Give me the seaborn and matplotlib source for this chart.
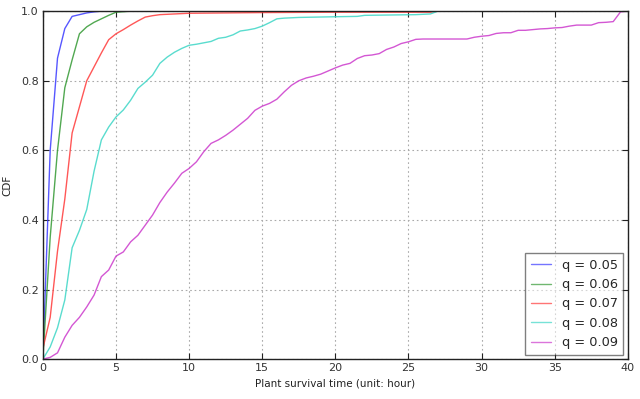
import matplotlib
matplotlib.use("Agg")
import matplotlib.pyplot as plt
import seaborn as sns
import pandas as pd

labels = ["q = 0.05", "q = 0.06", "q = 0.07", "q = 0.08", "q = 0.09"]
colors = ["#3a3aff", "#339933", "#ff3a3a", "#3dd6c6", "#cc3acc"]

x_05 = [0, 0.5, 1, 1.5, 2, 2.5, 3, 3.5, 4, 5, 40]
y_05 = [0, 0.60, 0.865, 0.95, 0.985, 0.99, 0.995, 0.998, 1.0, 1.0, 1.0]

x_06 = [0, 0.5, 1, 1.5, 2, 2.5, 3, 3.5, 4, 4.5, 5, 6, 40]
y_06 = [0, 0.35, 0.60, 0.78, 0.86, 0.935, 0.955, 0.968, 0.978, 0.988, 0.997, 1.0, 1.0]

x_07 = [0, 0.5, 1, 1.5, 2, 2.5, 3, 3.5, 4, 4.5, 5, 5.5, 6, 6.5, 7, 7.5, 8, 9, 10,
        15, 20, 26.5, 27, 40]
y_07 = [0.03, 0.12, 0.31, 0.46, 0.65, 0.725, 0.80, 0.84, 0.88, 0.918, 0.935, 0.947,
        0.96, 0.972, 0.983, 0.987, 0.99, 0.992, 0.994, 0.996, 0.997, 0.997, 1.0, 1.0]

x_08 = [0, 0.5, 1, 1.5, 2, 2.5, 3, 3.5, 4, 4.5, 5, 5.5, 6, 6.5, 7, 7.5, 8, 8.5, 9,
        9.5, 10, 10.5, 11, 11.5, 12, 12.5, 13, 13.5, 14, 14.5, 15, 15.5, 16, 16.5,
        17.5, 20, 21.5, 22, 25.5, 26.5, 27, 40]
y_08 = [0, 0.035, 0.09, 0.17, 0.32, 0.37, 0.43, 0.54, 0.63, 0.667, 0.696, 0.716,
        0.744, 0.778, 0.796, 0.816, 0.85, 0.868, 0.882, 0.893, 0.902, 0.905, 0.909,
        0.913, 0.922, 0.925, 0.932, 0.943, 0.946, 0.95, 0.957, 0.967, 0.978, 0.98,
        0.982, 0.984, 0.985, 0.988, 0.99, 0.992, 1.0, 1.0]

x_09 = [0, 0.5, 1, 1.5, 2, 2.5, 3, 3.5, 4, 4.5, 5, 5.5, 6, 6.5, 7, 7.5, 8, 8.5, 9,
        9.5, 10, 10.5, 11, 11.5, 12, 12.5, 13, 13.5, 14, 14.5, 15, 15.5, 16, 16.5,
        17, 17.5, 18, 18.5, 19, 19.5, 20, 20.5, 21, 21.5, 22, 22.5, 23, 23.5, 24,
        24.5, 25, 25.5, 26, 29, 29.5, 30, 30.5, 31, 31.5, 32, 32.5, 33, 33.5, 34,
        34.5, 35, 35.5, 36, 36.5, 37, 37.5, 38, 38.5, 39, 39.5, 40]
y_09 = [0, 0.005, 0.018, 0.063, 0.097, 0.12, 0.15, 0.184, 0.237, 0.256, 0.296,
        0.308, 0.337, 0.356, 0.385, 0.414, 0.45, 0.48, 0.506, 0.534, 0.548, 0.567,
        0.596, 0.62, 0.63, 0.643, 0.658, 0.675, 0.692, 0.715, 0.727, 0.735, 0.747,
        0.768, 0.787, 0.80, 0.808, 0.813, 0.819, 0.828, 0.837, 0.845, 0.85, 0.864,
        0.872, 0.874, 0.878, 0.89, 0.897, 0.907, 0.912, 0.919, 0.92, 0.92, 0.925,
        0.928, 0.93, 0.936, 0.938, 0.938, 0.945, 0.945, 0.947, 0.949, 0.95, 0.952,
        0.953, 0.957, 0.96, 0.96, 0.96, 0.967, 0.968, 0.97, 0.998, 1.0]

xs = [x_05, x_06, x_07, x_08, x_09]
ys = [y_05, y_06, y_07, y_08, y_09]

frames = []
for lab, xv, yv in zip(labels, xs, ys):
    frames.append(pd.DataFrame({"t": xv, "cdf": yv, "q": lab}))
df = pd.concat(frames, ignore_index=True)

sns.set_style("white")
plt.rcParams["font.family"] = ["DejaVu Sans"]

fig = plt.figure(figsize=(6.4, 3.99), dpi=100)
ax = fig.add_axes([0.067, 0.10, 0.914, 0.872])

sns.lineplot(data=df, x="t", y="cdf", hue="q", palette=colors, hue_order=labels,
             ax=ax, linewidth=1.0, estimator=None, sort=False, alpha=0.85)

ax.set_xlim(0, 40)
ax.set_ylim(0, 1.0)
ax.set_xticks([0, 5, 10, 15, 20, 25, 30, 35, 40])
ax.set_yticks([0.0, 0.2, 0.4, 0.6, 0.8, 1.0])
ax.set_yticklabels(["0.0", "0.2", "0.4", "0.6", "0.8", "1.0"])
ax.tick_params(axis="both", direction="in", length=4, width=0.8, labelsize=8,
               top=True, right=True, bottom=True, left=True, pad=3,
               colors="#222222", labelcolor="#333333")
ax.grid(True, linestyle=(0, (1.5, 2.5)), color="#aaaaaa", linewidth=0.8)
for s in ax.spines.values():
    s.set_color("#222222")
    s.set_linewidth(1.0)
ax.set_xlabel("Plant survival time (unit: hour)", fontsize=7.5, color="#222222", labelpad=4)
ax.set_ylabel("CDF", fontsize=7.5, color="#222222", labelpad=6)

leg = ax.legend(loc="lower right", fontsize=9.3, frameon=True, fancybox=False,
                framealpha=0.5, edgecolor="black", handlelength=1.6,
                handletextpad=0.85, borderaxespad=0.35, labelspacing=0.5,
                borderpad=0.4)
leg.get_frame().set_linewidth(1.0)
for h in leg.legend_handles:
    h.set_alpha(0.7)

fig.savefig("out.png", dpi=100)
